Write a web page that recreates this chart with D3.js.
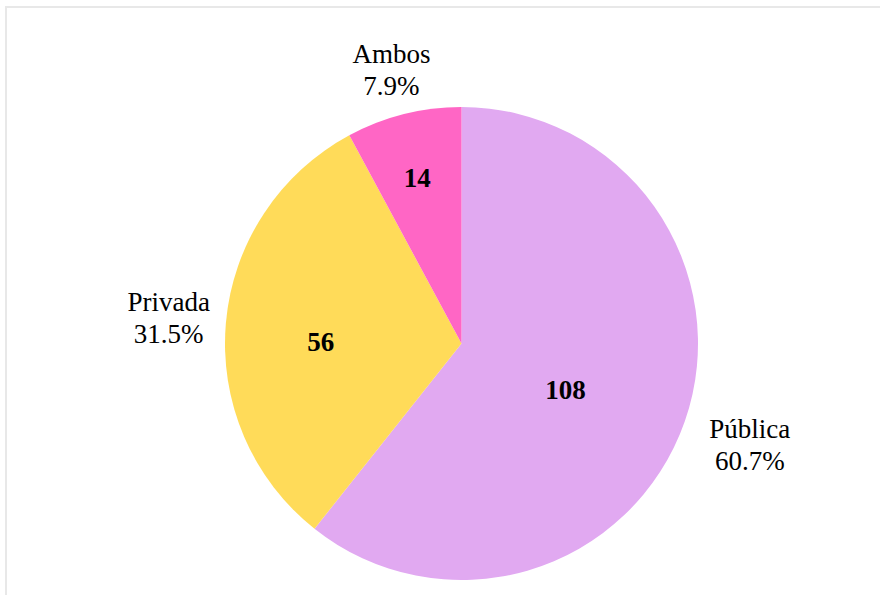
<!DOCTYPE html>
<html>
<head>
<meta charset="utf-8">
<script src="https://cdn.jsdelivr.net/npm/d3@7"></script>
<style>
  html, body { margin: 0; padding: 0; background: #fff; }
  svg { display: block; }
</style>
</head>
<body>
<svg id="chart" width="880" height="595"></svg>
<script>
// Sector of the institution (count of respondents)
const categories = ["Pública", "Privada", "Ambos"];
const values = [108, 56, 14];
const colors = ["#E1A9F1", "#FFDB59", "#FF66C5"];

const width = 880, height = 595;
const cx = 461.5, cy = 343.5, radius = 236.5;
const fontSize = 27, lineHeight = 32;
const serif = "'Liberation Serif', 'Times New Roman', Tinos, 'DejaVu Serif', serif";

const svg = d3.select("#chart");

// light frame around the plot area
svg.append("rect")
  .attr("x", 6).attr("y", 7)
  .attr("width", 900).attr("height", 700)
  .attr("fill", "none")
  .attr("stroke", "#e8e8e8")
  .attr("stroke-width", 2);

const total = d3.sum(values);
const data = categories.map((c, i) => ({ name: c, value: values[i], color: colors[i] }));

const pie = d3.pie().sort(null).value(d => d.value);
const arcs = pie(data);
const arc = d3.arc().innerRadius(0).outerRadius(radius);

const g = svg.append("g").attr("transform", `translate(${cx},${cy})`);

g.selectAll("path.slice")
  .data(arcs)
  .join("path")
  .attr("class", "slice")
  .attr("d", arc)
  .attr("fill", d => d.data.color);

// value labels inside the slices: narrower slices push the label outward
g.selectAll("text.value")
  .data(arcs)
  .join("text")
  .attr("class", "value")
  .attr("text-anchor", "middle")
  .attr("dy", "0.35em")
  .style("font-family", serif)
  .style("font-size", fontSize + "px")
  .style("font-weight", "bold")
  .attr("fill", "#000")
  .attr("transform", d => {
    const share = d.data.value / total;
    const r = radius * (0.935 - 0.602 * Math.sqrt(share));
    const a = (d.startAngle + d.endAngle) / 2;
    return `translate(${Math.sin(a) * r},${-Math.cos(a) * r + 10})`;
  })
  .text(d => d.data.value);

// category name and percentage outside each slice
const outer = g.selectAll("g.cat")
  .data(arcs)
  .join("g")
  .attr("class", "cat")
  .attr("transform", d => {
    const share = d.data.value / total;
    const r = radius + 42 + 46 * share;
    const a = (d.startAngle + d.endAngle) / 2;
    return `translate(${Math.sin(a) * r - 1},${-Math.cos(a) * r})`;
  });

outer.append("text")
  .attr("text-anchor", "middle")
  .style("font-family", serif)
  .style("font-size", fontSize + "px")
  .attr("fill", "#000")
  .attr("y", -lineHeight / 2)
  .attr("dy", "0.35em")
  .text(d => d.data.name);

outer.append("text")
  .attr("text-anchor", "middle")
  .style("font-family", serif)
  .style("font-size", fontSize + "px")
  .attr("fill", "#000")
  .attr("y", lineHeight / 2)
  .attr("dy", "0.35em")
  .text(d => (d.data.value / total * 100).toFixed(1) + "%");
</script>
</body>
</html>
